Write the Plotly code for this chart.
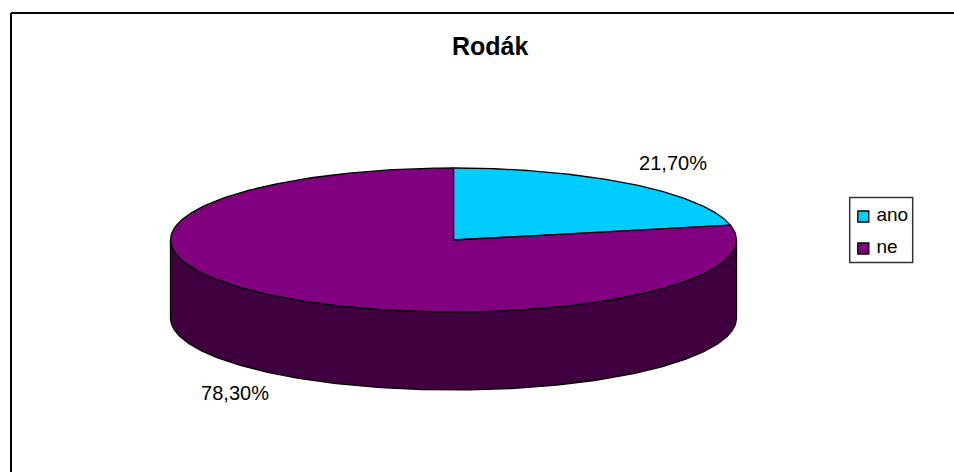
import numpy as np
import plotly.graph_objects as go

categories = ["ano", "ne"]
values = [21.7, 78.3]
labels = ["21,70%", "78,30%"]
colors = ["#00CCFF", "#800080"]
side_colors = ["#004C60", "#400040"]
title = "Rodák"

W, H = 954, 472
CX, CY, RX, RY, DEPTH = 453.5, 240, 283, 72, 78
FONT = "Liberation Sans, Arial, sans-serif"
LABEL_POS = [(673, 165), (235, 395)]
LEGEND_BOX = (849.7, 197.5, 912.7, 262.5)
LEGEND_X, LEGEND_Y0, LEGEND_STEP = 863.3, 216.5, 32

fig = go.Figure()
total = sum(values)
start = 0.0
sectors = []
for v in values:
    end = start + v / total * 2 * np.pi
    sectors.append((start, end))
    start = end

def ell(t, dy=0.0):
    return CX + RX * np.sin(t), CY - RY * np.cos(t) + dy

# side walls (only the front-facing half: angle pi/2 .. 3pi/2 from the top)
for (a, b), sc in zip(sectors, side_colors):
    lo, hi = max(a, np.pi / 2), min(b, 3 * np.pi / 2)
    if hi <= lo:
        continue
    t = np.linspace(lo, hi, 240)
    x1, y1 = ell(t)
    x2, y2 = ell(t[::-1], DEPTH)
    fig.add_trace(go.Scatter(
        x=np.r_[x1, x2, x1[0]], y=np.r_[y1, y2, y1[0]], mode="lines",
        fill="toself", fillcolor=sc, line=dict(color="#000000", width=1.3),
        showlegend=False, hoverinfo="skip"))

# top faces
for (a, b), c, name in zip(sectors, colors, categories):
    t = np.linspace(a, b, 300)
    x, y = ell(t)
    fig.add_trace(go.Scatter(
        x=np.r_[CX, x, CX], y=np.r_[CY, y, CY], mode="lines", name=name,
        fill="toself", fillcolor=c, line=dict(color="#000000", width=1.3),
        showlegend=False, hoverinfo="name"))

# legend entries
for i, (name, c) in enumerate(zip(categories, colors)):
    fig.add_trace(go.Scatter(
        x=[LEGEND_X], y=[LEGEND_Y0 + i * LEGEND_STEP], mode="markers+text",
        name=name, text=["\u00a0" + name], textposition="middle right",
        textfont=dict(family=FONT, size=19, color="#000000"),
        marker=dict(symbol="square", size=11, color=c,
                    line=dict(color="#000000", width=1.3)),
        showlegend=False, hoverinfo="skip"))

# value labels
fig.add_trace(go.Scatter(
    x=[p[0] for p in LABEL_POS], y=[p[1] for p in LABEL_POS], mode="text",
    text=labels, textposition="middle center",
    textfont=dict(family=FONT, size=20, color="#000000"),
    showlegend=False, hoverinfo="skip"))

fig.update_layout(
    width=W, height=H, autosize=False,
    margin=dict(l=0, r=0, t=0, b=0),
    paper_bgcolor="#FFFFFF", plot_bgcolor="#FFFFFF",
    xaxis=dict(range=[0, W], visible=False, fixedrange=True),
    yaxis=dict(range=[H, 0], visible=False, fixedrange=True),
    showlegend=False,
    annotations=[dict(
        x=490.5, y=46, xref="x", yref="y", text="<b>%s</b>" % title,
        showarrow=False, font=dict(family=FONT, size=25, color="#000000"))],
    shapes=[
        dict(type="line", x0=11, x1=W + 5, y0=13, y1=13, xref="x", yref="y",
             line=dict(color="#000000", width=2)),
        dict(type="line", x0=11, x1=11, y0=13, y1=H + 5, xref="x", yref="y",
             line=dict(color="#000000", width=2)),
        dict(type="rect", x0=LEGEND_BOX[0], y0=LEGEND_BOX[1], x1=LEGEND_BOX[2], y1=LEGEND_BOX[3],
             xref="x", yref="y", layer="below", fillcolor="#FFFFFF",
             line=dict(color="#333333", width=1.5)),
    ],
)
fig.write_html("out.html", config=dict(displayModeBar=False),
               post_script="document.body.style.margin='0';document.documentElement.style.overflow='hidden';")
